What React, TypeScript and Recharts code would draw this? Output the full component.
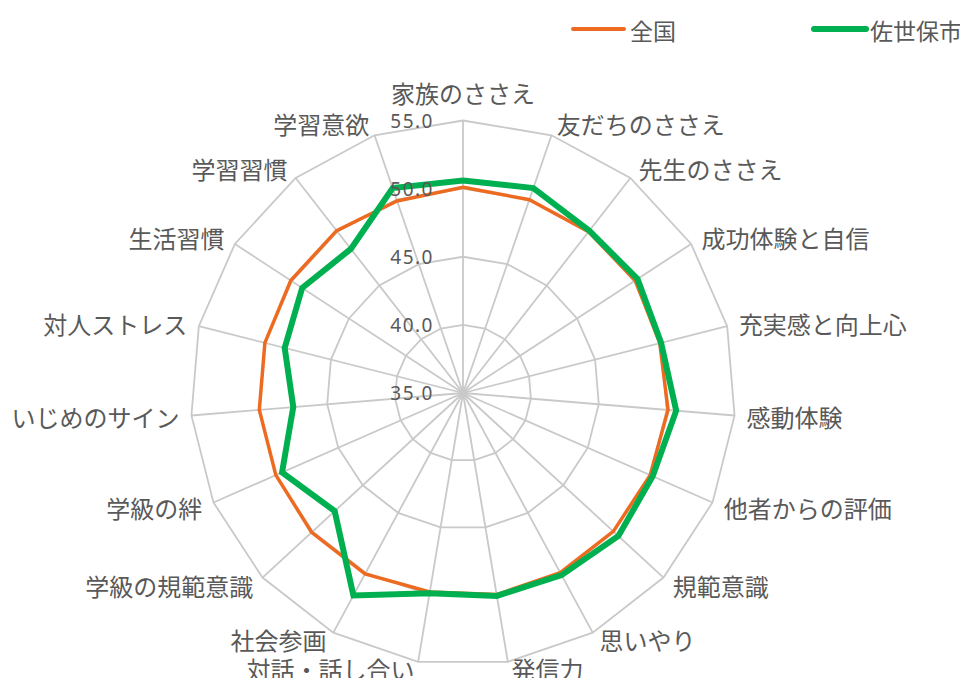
import { PolarAngleAxis, PolarGrid, PolarRadiusAxis, Radar, RadarChart } from 'recharts';

const categories = [
  '家族のささえ',
  '友だちのささえ',
  '先生のささえ',
  '成功体験と自信',
  '充実感と向上心',
  '感動体験',
  '他者からの評価',
  '規範意識',
  '思いやり',
  '発信力',
  '対話・話し合い',
  '社会参画',
  '学級の規範意識',
  '学級の絆',
  'いじめのサイン',
  '対人ストレス',
  '生活習慣',
  '学習習慣',
  '学習意欲',
];

const zenkoku = [50.1, 50.0, 50.0, 50.1, 49.9, 50.1, 50.0, 50.0, 50.0, 50.0, 49.8, 50.1, 50.1, 50.0, 50.0, 50.0, 50.1, 50.1, 49.9];
const sasebo = [50.6, 50.9, 50.1, 50.3, 50.0, 50.7, 50.2, 50.5, 50.2, 50.1, 49.9, 51.9, 47.8, 49.5, 47.5, 48.5, 49.1, 48.4, 50.9];

const radiusTicks = [35, 40, 45, 50, 55];

const data = categories.map((name, i) => ({
  name,
  zenkoku: zenkoku[i],
  sasebo: sasebo[i],
}));

const CX = 463;
const CY = 393;
const R = 272.5;
const ORANGE = '#ED6B21';
const GREEN = '#00B050';
const TEXT = '#595959';
const CJK = '"Noto Sans CJK JP", "Noto Sans", sans-serif';

// label placement roughly like Excel: pushed out from the outer vertex
function AngleTick(props: any) {
  const { index, payload } = props;
  const a = (index * 2 * Math.PI) / categories.length;
  const s = Math.sin(a);
  const c = Math.cos(a);
  const vx = CX + R * s;
  const vy = CY - R * c;
  let x = vx;
  let y = vy - 12 * c;
  if (c < -0.9) y -= 5;
  else if (c < -0.85) y -= 4;
  let anchor: 'start' | 'end' | 'middle' = 'middle';
  if (Math.abs(s) < 0.05) {
    y = vy - 28;
  } else if (s > 0) {
    anchor = 'start';
    x = vx + 2 + 10 * s;
  } else {
    anchor = 'end';
    x = vx - 2 + 10 * s;
  }
  return (
    <text x={x} y={y} textAnchor={anchor} dominantBaseline="central" fill={TEXT} fontSize={24} fontFamily={CJK}>
      {payload.value}
    </text>
  );
}

function RadiusTick(props: any) {
  const { x, y, payload } = props;
  return (
    <text
      x={x - 29}
      y={y}
      textAnchor="end"
      dominantBaseline="central"
      fill={TEXT}
      fontSize={19}
      letterSpacing={1.5}
      fontFamily='"Noto Sans", sans-serif'
    >
      {Number(payload.value).toFixed(1)}
    </text>
  );
}

function LegendBox() {
  return (
    <svg width={968} height={60} style={{ position: 'absolute', left: 0, top: 0 }}>
      <line x1={573} y1={29} x2={624} y2={29} stroke={ORANGE} strokeWidth={4} strokeLinecap="round" />
      <text x={630} y={30} dominantBaseline="central" fill={TEXT} fontSize={23} fontFamily={CJK}>
        全国
      </text>
      <line x1={814} y1={29} x2={866} y2={29} stroke={GREEN} strokeWidth={6} strokeLinecap="round" />
      <text x={870} y={30} dominantBaseline="central" fill={TEXT} fontSize={23} fontFamily={CJK}>
        佐世保市
      </text>
    </svg>
  );
}

export default function App() {
  return (
    <div style={{ position: 'relative', width: 968, height: 686, margin: -8, background: '#fff' }}>
      <RadarChart
        width={968}
        height={686}
        data={data}
        cx={CX}
        cy={CY}
        outerRadius={R}
        margin={{ top: 0, right: 0, bottom: 0, left: 0 }}
      >
        <PolarGrid gridType="polygon" stroke="#C9C9C9" strokeWidth={1.8} />
        <PolarAngleAxis dataKey="name" tick={AngleTick} tickLine={false} axisLine={false} />
        <PolarRadiusAxis
          angle={90}
          domain={[35, 55]}
          ticks={radiusTicks}
          tickCount={5}
          axisLine={false}
          tickLine={false}
          tick={RadiusTick}
        />
        <Radar
          name="全国"
          dataKey="zenkoku"
          stroke={ORANGE}
          strokeWidth={3.5}
          fill="none"
          fillOpacity={0}
          dot={false}
          isAnimationActive={false}
        />
        <Radar
          name="佐世保市"
          dataKey="sasebo"
          stroke={GREEN}
          strokeWidth={6}
          fill="none"
          fillOpacity={0}
          dot={false}
          isAnimationActive={false}
        />
      </RadarChart>
      <LegendBox />
    </div>
  );
}
